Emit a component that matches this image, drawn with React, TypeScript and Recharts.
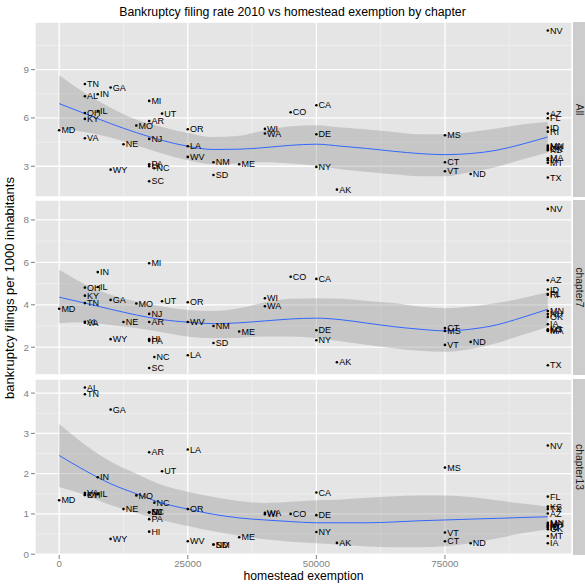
import {
  ComposedChart,
  Area,
  Line,
  Scatter,
  XAxis,
  YAxis,
  CartesianGrid,
} from "recharts";

// states, homestead exemption ($) and filings per 1000 inhabitants
const states = [
  "MD", "TN", "AL", "OH", "KY", "VA", "IN", "IL", "GA", "WY",
  "NE", "MO", "MI", "AR", "NJ", "PA", "HI", "SC", "NC", "UT",
  "OR", "LA", "WV", "NM", "SD", "ME", "WI", "WA", "CO", "CA",
  "DE", "NY", "AK", "MS", "CT", "VT", "ND", "NV", "AZ", "FL",
  "ID", "RI", "MN", "NH", "OK", "KS", "IA", "MA", "MT", "TX",
];
const exemption = [
  0, 5000, 5000, 5000, 5000, 5000, 7500, 7500, 10000, 10000,
  12500, 15000, 17500, 17500, 17500, 17500, 17500, 17500, 18500, 20000,
  25000, 25000, 25000, 30000, 30000, 35000, 40000, 40000, 45000, 50000,
  50000, 50000, 54000, 75000, 75000, 75000, 80000, 95000, 95000, 95000,
  95000, 95000, 95000, 95000, 95000, 95000, 95000, 95000, 95000, 95000,
];
const rateAll = [
  5.24, 8.11, 7.35, 6.31, 5.94, 4.74, 7.47, 6.43, 7.89, 2.79,
  4.37, 5.53, 7.06, 5.81, 4.7, 3.12, 3.0, 2.07, 2.88, 6.27,
  5.3, 4.24, 3.58, 3.25, 2.46, 3.12, 5.32, 5.03, 6.35, 6.79,
  4.99, 2.96, 1.55, 4.93, 3.25, 2.69, 2.52, 11.43, 6.27, 5.98,
  5.4, 5.15, 4.29, 4.2, 4.1, 4.0, 3.38, 3.5, 3.22, 2.3,
];
const rateCh7 = [
  3.81, 4.08, 3.2, 4.81, 4.43, 3.15, 5.54, 4.84, 4.23, 2.38,
  3.19, 4.06, 5.96, 3.19, 3.57, 2.3, 2.38, 1.02, 1.54, 4.17,
  4.12, 1.62, 3.19, 3.0, 2.2, 2.74, 4.31, 3.93, 5.32, 5.22,
  2.8, 2.33, 1.29, 2.77, 2.9, 2.11, 2.25, 8.52, 5.16, 4.51,
  4.72, 4.47, 3.71, 3.56, 3.43, 2.85, 3.08, 2.77, 2.8, 1.15,
];
const rateCh13 = [
  1.34, 3.97, 4.14, 1.47, 1.47, 1.52, 1.91, 1.5, 3.59, 0.38,
  1.12, 1.46, 1.04, 2.53, 1.04, 0.87, 0.56, 1.04, 1.28, 2.06,
  1.12, 2.6, 0.32, 0.24, 0.24, 0.42, 0.99, 1.03, 1.0, 1.53,
  0.97, 0.55, 0.28, 2.15, 0.32, 0.54, 0.27, 2.7, 1.01, 1.43,
  0.68, 0.66, 0.78, 0.72, 0.62, 1.18, 0.27, 0.75, 0.45, 1.12,
];

// loess fit and confidence band
const fitX = [
  0, 5000, 10000, 15000, 20000, 25000, 30000, 35000, 40000, 45000,
  50000, 55000, 60000, 65000, 70000, 75000, 80000, 85000, 90000, 95000,
];
const fitAll = [6.89, 6.27, 5.65, 5.09, 4.61, 4.24, 4.04, 4.06, 4.16, 4.3, 4.37, 4.24, 4.1, 3.93, 3.79, 3.72, 3.79, 3.99, 4.37, 4.82];
const hiAll = [8.65, 7.55, 6.64, 5.9, 5.44, 5.07, 4.82, 4.9, 5.24, 5.48, 5.55, 5.4, 5.28, 5.13, 4.99, 4.99, 5.13, 5.34, 5.6, 5.75];
const loAll = [5.34, 5.13, 4.78, 4.3, 3.79, 3.37, 3.12, 3.17, 3.25, 3.17, 3.04, 2.8, 2.65, 2.5, 2.38, 2.38, 2.65, 2.96, 3.42, 3.85];
const fitCh7 = [4.36, 4.08, 3.79, 3.52, 3.3, 3.18, 3.11, 3.15, 3.24, 3.33, 3.37, 3.29, 3.13, 2.97, 2.85, 2.77, 2.85, 3.05, 3.4, 3.79];
const hiCh7 = [5.65, 4.97, 4.47, 4.15, 3.92, 3.76, 3.71, 3.84, 4.12, 4.28, 4.31, 4.28, 4.18, 4.08, 3.92, 3.84, 3.92, 4.08, 4.31, 4.59];
const loCh7 = [3.13, 3.18, 3.05, 2.9, 2.71, 2.5, 2.42, 2.45, 2.5, 2.5, 2.42, 2.27, 2.11, 1.95, 1.83, 1.79, 1.92, 2.19, 2.58, 2.97];
const fitCh13 = [2.45, 2.08, 1.75, 1.5, 1.27, 1.12, 0.99, 0.9, 0.85, 0.81, 0.78, 0.78, 0.78, 0.8, 0.83, 0.85, 0.87, 0.89, 0.91, 0.93];
const hiCh13 = [3.23, 2.72, 2.3, 2.0, 1.72, 1.55, 1.42, 1.32, 1.27, 1.3, 1.34, 1.36, 1.4, 1.44, 1.46, 1.46, 1.42, 1.34, 1.26, 1.18];
const loCh13 = [1.67, 1.47, 1.22, 1.02, 0.84, 0.7, 0.57, 0.46, 0.37, 0.31, 0.27, 0.23, 0.19, 0.17, 0.17, 0.2, 0.27, 0.39, 0.52, 0.62];

const xTicks = [0, 25000, 50000, 75000];
const xMinor = [12500, 37500, 62500, 87500];

const FONT = "'Liberation Sans', Arial, Helvetica, sans-serif";
const GREY = "#7F7F7F";

const panels = [
  { name: "All", top: 22, height: 175, domain: [1.09, 11.96], ticks: [3, 6, 9], minor: [1.5, 4.5, 7.5, 10.5], rate: rateAll, fit: fitAll, lo: loAll, hi: hiAll },
  { name: "chapter7", top: 200, height: 175, domain: [0.69, 8.94], ticks: [2, 4, 6, 8], minor: [1, 3, 5, 7], rate: rateCh7, fit: fitCh7, lo: loCh7, hi: hiCh7 },
  { name: "chapter13", top: 378.5, height: 176, domain: [-0.02, 4.35], ticks: [0, 1, 2, 3, 4], minor: [0.5, 1.5, 2.5, 3.5], rate: rateCh13, fit: fitCh13, lo: loCh13, hi: hiCh13 },
];

const StateDot = (props: any) => {
  const { cx, cy, payload } = props;
  if (cx == null || cy == null) return null;
  return (
    <g>
      <circle cx={cx} cy={cy} r={1.3} fill="#000" />
      <text x={cx + 2.2} y={cy} dy="0.35em" fontSize={9} fill="#000" fontFamily={FONT}>
        {payload.state}
      </text>
    </g>
  );
};

function Panel({ p, last }: { p: (typeof panels)[number]; last: boolean }) {
  const rows = fitX.map((x, i) => ({ x, fit: p.fit[i], lo: p.lo[i], hi: p.hi[i] }));
  const points = states.map((state, i) => ({ state, x: exemption[i], y: p.rate[i] }));
  const axisH = last ? 18 : 0;
  return (
    <div style={{ position: "absolute", left: 0, top: p.top }}>
      <ComposedChart
        width={572}
        height={p.height + axisH}
        data={rows}
        margin={{ top: 0, right: 0, bottom: 0, left: 0 }}
      >
        <CartesianGrid
          fill="#E5E5E5"
          stroke="#F2F2F2"
          strokeWidth={0.7}
          horizontalValues={p.minor}
          verticalValues={xMinor}
        />
        <CartesianGrid stroke="#FFFFFF" strokeWidth={1.3} fill="none" />
        <XAxis
          type="number"
          dataKey="x"
          domain={[-4700, 99700]}
          ticks={xTicks}
          allowDataOverflow
          hide={!last}
          height={axisH || 1}
          axisLine={false}
          tickLine={{ stroke: GREY }}
          tickSize={4}
          tickMargin={1}
          tick={{ fill: GREY, fontSize: 9.8, fontFamily: FONT }}
        />
        <YAxis
          type="number"
          domain={p.domain}
          ticks={p.ticks}
          allowDataOverflow
          width={35}
          axisLine={false}
          tickLine={{ stroke: GREY }}
          tickSize={4}
          tickMargin={2}
          tick={{ fill: GREY, fontSize: 9.8, fontFamily: FONT }}
        />
        <Area
          type="monotone"
          dataKey={(d: any) => [d.lo, d.hi]}
          fill="#999999"
          fillOpacity={0.4}
          stroke="none"
          isAnimationActive={false}
        />
        <Line
          type="monotone"
          dataKey="fit"
          stroke="#3366FF"
          strokeWidth={1}
          dot={false}
          isAnimationActive={false}
        />
        <Scatter data={points} dataKey="y" shape={StateDot} isAnimationActive={false} />
      </ComposedChart>
      <svg
        width={12}
        height={p.height}
        style={{ position: "absolute", left: 573, top: 0, background: "#CCCCCC" }}
      >
        <text
          x={6}
          y={p.height / 2}
          transform={`rotate(90 6 ${p.height / 2})`}
          textAnchor="middle"
          dominantBaseline="central"
          fontSize={10.3}
          fill="#1A1A1A"
          fontFamily={FONT}
        >
          {p.name}
        </text>
      </svg>
    </div>
  );
}

export default function App() {
  return (
    <div
      style={{
        position: "absolute",
        left: 0,
        top: 0,
        width: 585,
        height: 585,
        background: "#FFFFFF",
        fontFamily: FONT,
        overflow: "hidden",
      }}
    >
      <div style={{ position: "absolute", top: 5, left: 0, width: 585, textAlign: "center", fontSize: 12.3, color: "#000" }}>
        Bankruptcy filing rate 2010 vs homestead exemption by chapter
      </div>
      {panels.map((p, i) => (
        <Panel key={p.name} p={p} last={i === panels.length - 1} />
      ))}
      <svg width={20} height={585} style={{ position: "absolute", left: 0, top: 0 }}>
        <text
          x={14}
          y={288}
          transform="rotate(-90 14 288)"
          textAnchor="middle"
          fontSize={13}
          fill="#000"
          fontFamily={FONT}
        >
          bankruptcy filings per 1000 inhabitants
        </text>
      </svg>
      <div style={{ position: "absolute", top: 569, left: 35, width: 537, textAlign: "center", fontSize: 12.2, color: "#000" }}>
        homestead exemption
      </div>
    </div>
  );
}
